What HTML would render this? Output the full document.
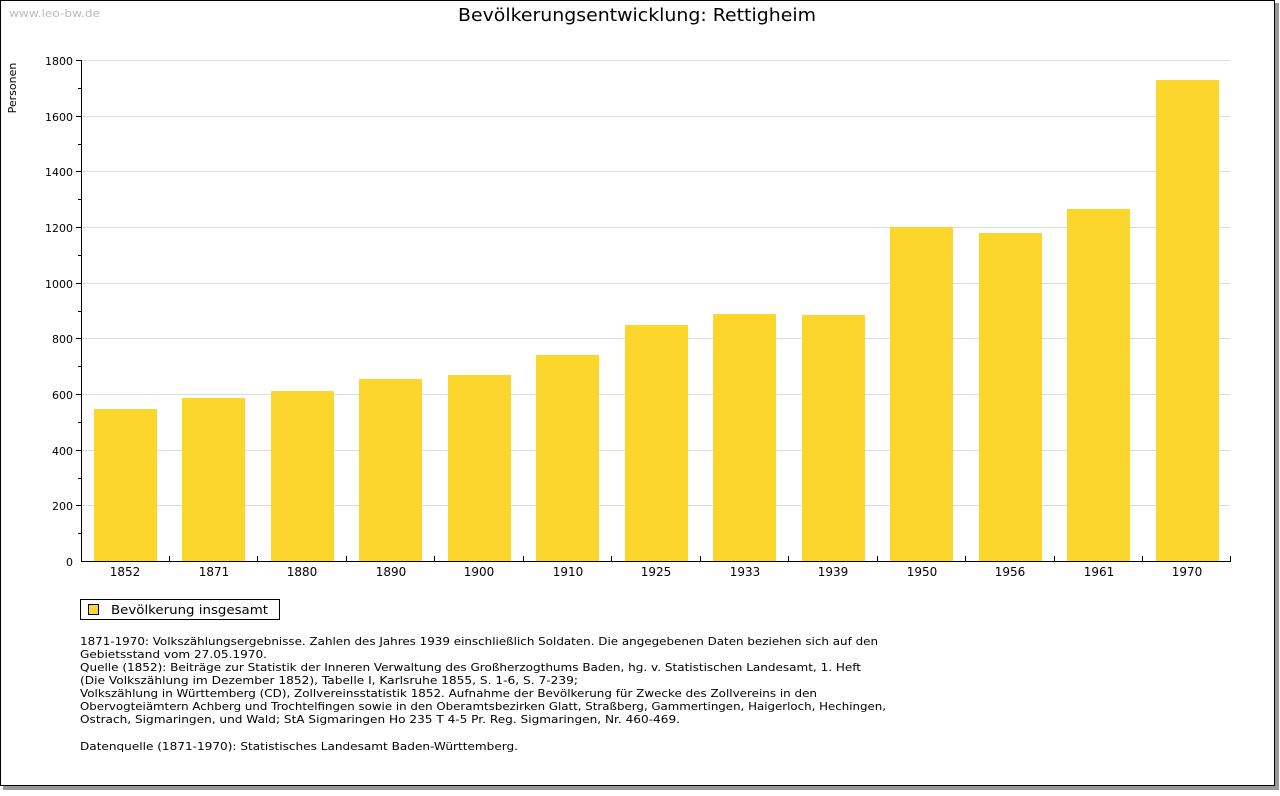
<!DOCTYPE html>
<html><head><meta charset="utf-8"><style>
body{margin:0;background:#fff;width:1280px;height:791px;overflow:hidden}
svg text{font-family:"DejaVu Sans","Liberation Sans",sans-serif}
</style></head><body>
<svg width="1280" height="791" xmlns="http://www.w3.org/2000/svg">
<rect x="3" y="3" width="1276" height="787" fill="#999"/>
<rect x="0.5" y="0.5" width="1274" height="785" fill="#fff" stroke="#000"/>
<text x="9" y="17" font-size="11" fill="#bbb" textLength="91" lengthAdjust="spacingAndGlyphs">www.leo-bw.de</text>
<text x="458" y="21" font-size="18" fill="#000" textLength="358" lengthAdjust="spacingAndGlyphs">Bevölkerungsentwicklung: Rettigheim</text>
<text transform="translate(16,88) rotate(-90)" font-size="11" text-anchor="middle">Personen</text>
<g stroke="#dcdcdc" stroke-width="1">
<line x1="82" x2="1230" y1="60.5" y2="60.5"/><line x1="82" x2="1230" y1="116.5" y2="116.5"/>
<line x1="82" x2="1230" y1="171.5" y2="171.5"/><line x1="82" x2="1230" y1="227.5" y2="227.5"/>
<line x1="82" x2="1230" y1="283.5" y2="283.5"/><line x1="82" x2="1230" y1="338.5" y2="338.5"/>
<line x1="82" x2="1230" y1="394.5" y2="394.5"/><line x1="82" x2="1230" y1="450.5" y2="450.5"/>
<line x1="82" x2="1230" y1="505.5" y2="505.5"/>
</g>
<g fill="#fcd62d">
<rect x="94" y="409" width="63" height="152"/>
<rect x="182" y="398" width="63" height="163"/>
<rect x="271" y="391" width="63" height="170"/>
<rect x="359" y="379" width="63" height="182"/>
<rect x="448" y="375" width="63" height="186"/>
<rect x="536" y="355" width="63" height="206"/>
<rect x="625" y="325" width="63" height="236"/>
<rect x="713" y="314" width="63" height="247"/>
<rect x="802" y="315" width="63" height="246"/>
<rect x="890" y="227" width="63" height="334"/>
<rect x="979" y="233" width="63" height="328"/>
<rect x="1067" y="209" width="63" height="352"/>
<rect x="1156" y="80" width="63" height="481"/>
</g>
<g stroke="#000" stroke-width="1">
<line x1="81.5" y1="60" x2="81.5" y2="561"/>
<line x1="81" y1="561.5" x2="1231" y2="561.5"/>
<path d="M76 60.5h5M76 116.5h5M76 171.5h5M76 227.5h5M76 283.5h5M76 338.5h5M76 394.5h5M76 450.5h5M76 505.5h5M78 88.5h3M78 144.5h3M78 199.5h3M78 255.5h3M78 311.5h3M78 366.5h3M78 422.5h3M78 478.5h3M78 533.5h3"/>
<path d="M169.5 556v5M257.5 556v5M346.5 556v5M434.5 556v5M523.5 556v5M611.5 556v5M700.5 556v5M788.5 556v5M877.5 556v5M965.5 556v5M1054.5 556v5M1142.5 556v5M1230.5 556v5"/>
</g>
<g font-size="11" text-anchor="end">
<text x="73" y="65">1800</text><text x="73" y="121">1600</text><text x="73" y="176">1400</text>
<text x="73" y="232">1200</text><text x="73" y="288">1000</text><text x="73" y="343">800</text>
<text x="73" y="399">600</text><text x="73" y="455">400</text><text x="73" y="510">200</text>
<text x="73" y="566">0</text>
</g>
<g font-size="12" text-anchor="middle">
<text x="125" y="576">1852</text><text x="214" y="576">1871</text><text x="302" y="576">1880</text>
<text x="391" y="576">1890</text><text x="479" y="576">1900</text><text x="568" y="576">1910</text>
<text x="656" y="576">1925</text><text x="745" y="576">1933</text><text x="833" y="576">1939</text>
<text x="922" y="576">1950</text><text x="1010" y="576">1956</text><text x="1099" y="576">1961</text>
<text x="1187" y="576">1970</text>
</g>
<rect x="80.5" y="599.5" width="199" height="20" fill="#fff" stroke="#000"/>
<rect x="88.5" y="604.5" width="10" height="10" fill="#fcd62d" stroke="#000"/>
<text x="111" y="614" font-size="12" textLength="157" lengthAdjust="spacingAndGlyphs">Bevölkerung insgesamt</text>
<g font-size="11" lengthAdjust="spacingAndGlyphs">
<text x="80" y="645" textLength="798" lengthAdjust="spacingAndGlyphs">1871-1970: Volkszählungsergebnisse. Zahlen des Jahres 1939 einschließlich Soldaten. Die angegebenen Daten beziehen sich auf den</text>
<text x="80" y="658" textLength="187" lengthAdjust="spacingAndGlyphs">Gebietsstand vom 27.05.1970.</text>
<text x="80" y="671" textLength="781" lengthAdjust="spacingAndGlyphs">Quelle (1852): Beiträge zur Statistik der Inneren Verwaltung des Großherzogthums Baden, hg. v. Statistischen Landesamt, 1. Heft</text>
<text x="80" y="684" textLength="498" lengthAdjust="spacingAndGlyphs">(Die Volkszählung im Dezember 1852), Tabelle I, Karlsruhe 1855, S. 1-6, S. 7-239;</text>
<text x="80" y="697" textLength="737" lengthAdjust="spacingAndGlyphs">Volkszählung in Württemberg (CD), Zollvereinsstatistik 1852. Aufnahme der Bevölkerung für Zwecke des Zollvereins in den</text>
<text x="80" y="710" textLength="806" lengthAdjust="spacingAndGlyphs">Obervogteiämtern Achberg und Trochtelfingen sowie in den Oberamtsbezirken Glatt, Straßberg, Gammertingen, Haigerloch, Hechingen,</text>
<text x="80" y="723" textLength="600" lengthAdjust="spacingAndGlyphs">Ostrach, Sigmaringen, und Wald; StA Sigmaringen Ho 235 T 4-5 Pr. Reg. Sigmaringen, Nr. 460-469.</text>
<text x="80" y="750" textLength="438" lengthAdjust="spacingAndGlyphs">Datenquelle (1871-1970): Statistisches Landesamt Baden-Württemberg.</text>
</g>
</svg>
</body></html>
